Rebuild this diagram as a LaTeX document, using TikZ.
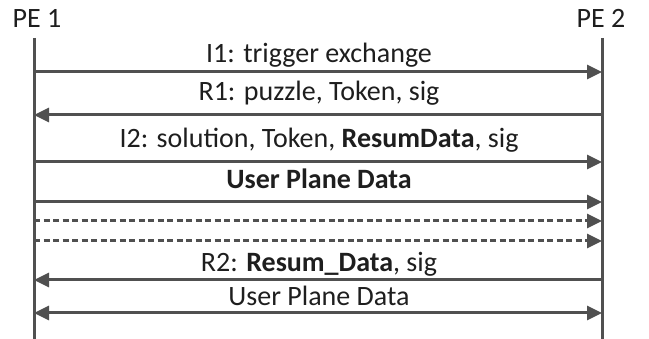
\documentclass[tikz,border=0pt]{standalone}
\usepackage{fontspec}
\setmainfont{Carlito}
\usetikzlibrary{arrows.meta}
\definecolor{ln}{HTML}{505050}
\definecolor{tx}{HTML}{1E1E1E}
\begin{document}
\begin{tikzpicture}[x=1pt,y=-1pt,
  life/.style={draw=ln,line width=3pt},
  msg/.style={draw=ln,line width=3pt,-{Triangle[length=15pt,width=14pt]}},
  msgl/.style={draw=ln,line width=3pt,{Triangle[length=15pt,width=14pt]}-},
  msgb/.style={draw=ln,line width=3pt,{Triangle[length=15pt,width=14pt]}-{Triangle[length=15pt,width=14pt]}},
  dsh/.style={draw=ln,line width=3pt,dash pattern=on 6pt off 3.5pt,-{Triangle[length=15pt,width=14pt]}},
  lbl/.style={text=tx,font=\fontsize{28}{32}\selectfont,anchor=base,inner sep=0pt},
  hd/.style={text=tx,font=\fontsize{28}{32}\selectfont,anchor=base,inner sep=0pt}]
\useasboundingbox (0,0) rectangle (649,339);
\node[hd] (pe1) at (37,28) {PE 1};
\node[hd] (pe2) at (601,28) {PE 2};
\coordinate (l0) at (34,38);
\coordinate (l1) at (34,339);
\coordinate (r0) at (602,38);
\coordinate (r1) at (602,339);
\draw[life] (l0) -- (l1);
\draw[life] (r0) -- (r1);
\foreach \n/\y in {a/72,b/115,c/162,d/202,e/221,f/241,g/280,h/313}{
  \coordinate (L\n) at (34,\y);
  \coordinate (R\n) at (602,\y);
}
\draw[msg] (La) -- (Ra);
\node[lbl] (ta) at (319,63) {I1: trigger exchange};
\draw[msgl] (Lb) -- (Rb);
\node[lbl] (tb) at (319,101) {R1: puzzle, Token, sig};
\draw[msg] (Lc) -- (Rc);
\node[lbl] (tc) at (319,148) {I2: solution, Token, \textbf{ResumData}, sig};
\draw[msg] (Ld) -- (Rd);
\node[lbl] (td) at (319,189) {\textbf{User Plane Data}};
\draw[dsh] (Le) -- (Re);
\draw[dsh] (Lf) -- (Rf);
\draw[msgl] (Lg) -- (Rg);
\node[lbl] (tg) at (319,272) {R2: \textbf{Resum\_Data}, sig};
\draw[msgb] (Lh) -- (Rh);
\node[lbl] (th) at (319,306) {User Plane Data};
\end{tikzpicture}
\end{document}
